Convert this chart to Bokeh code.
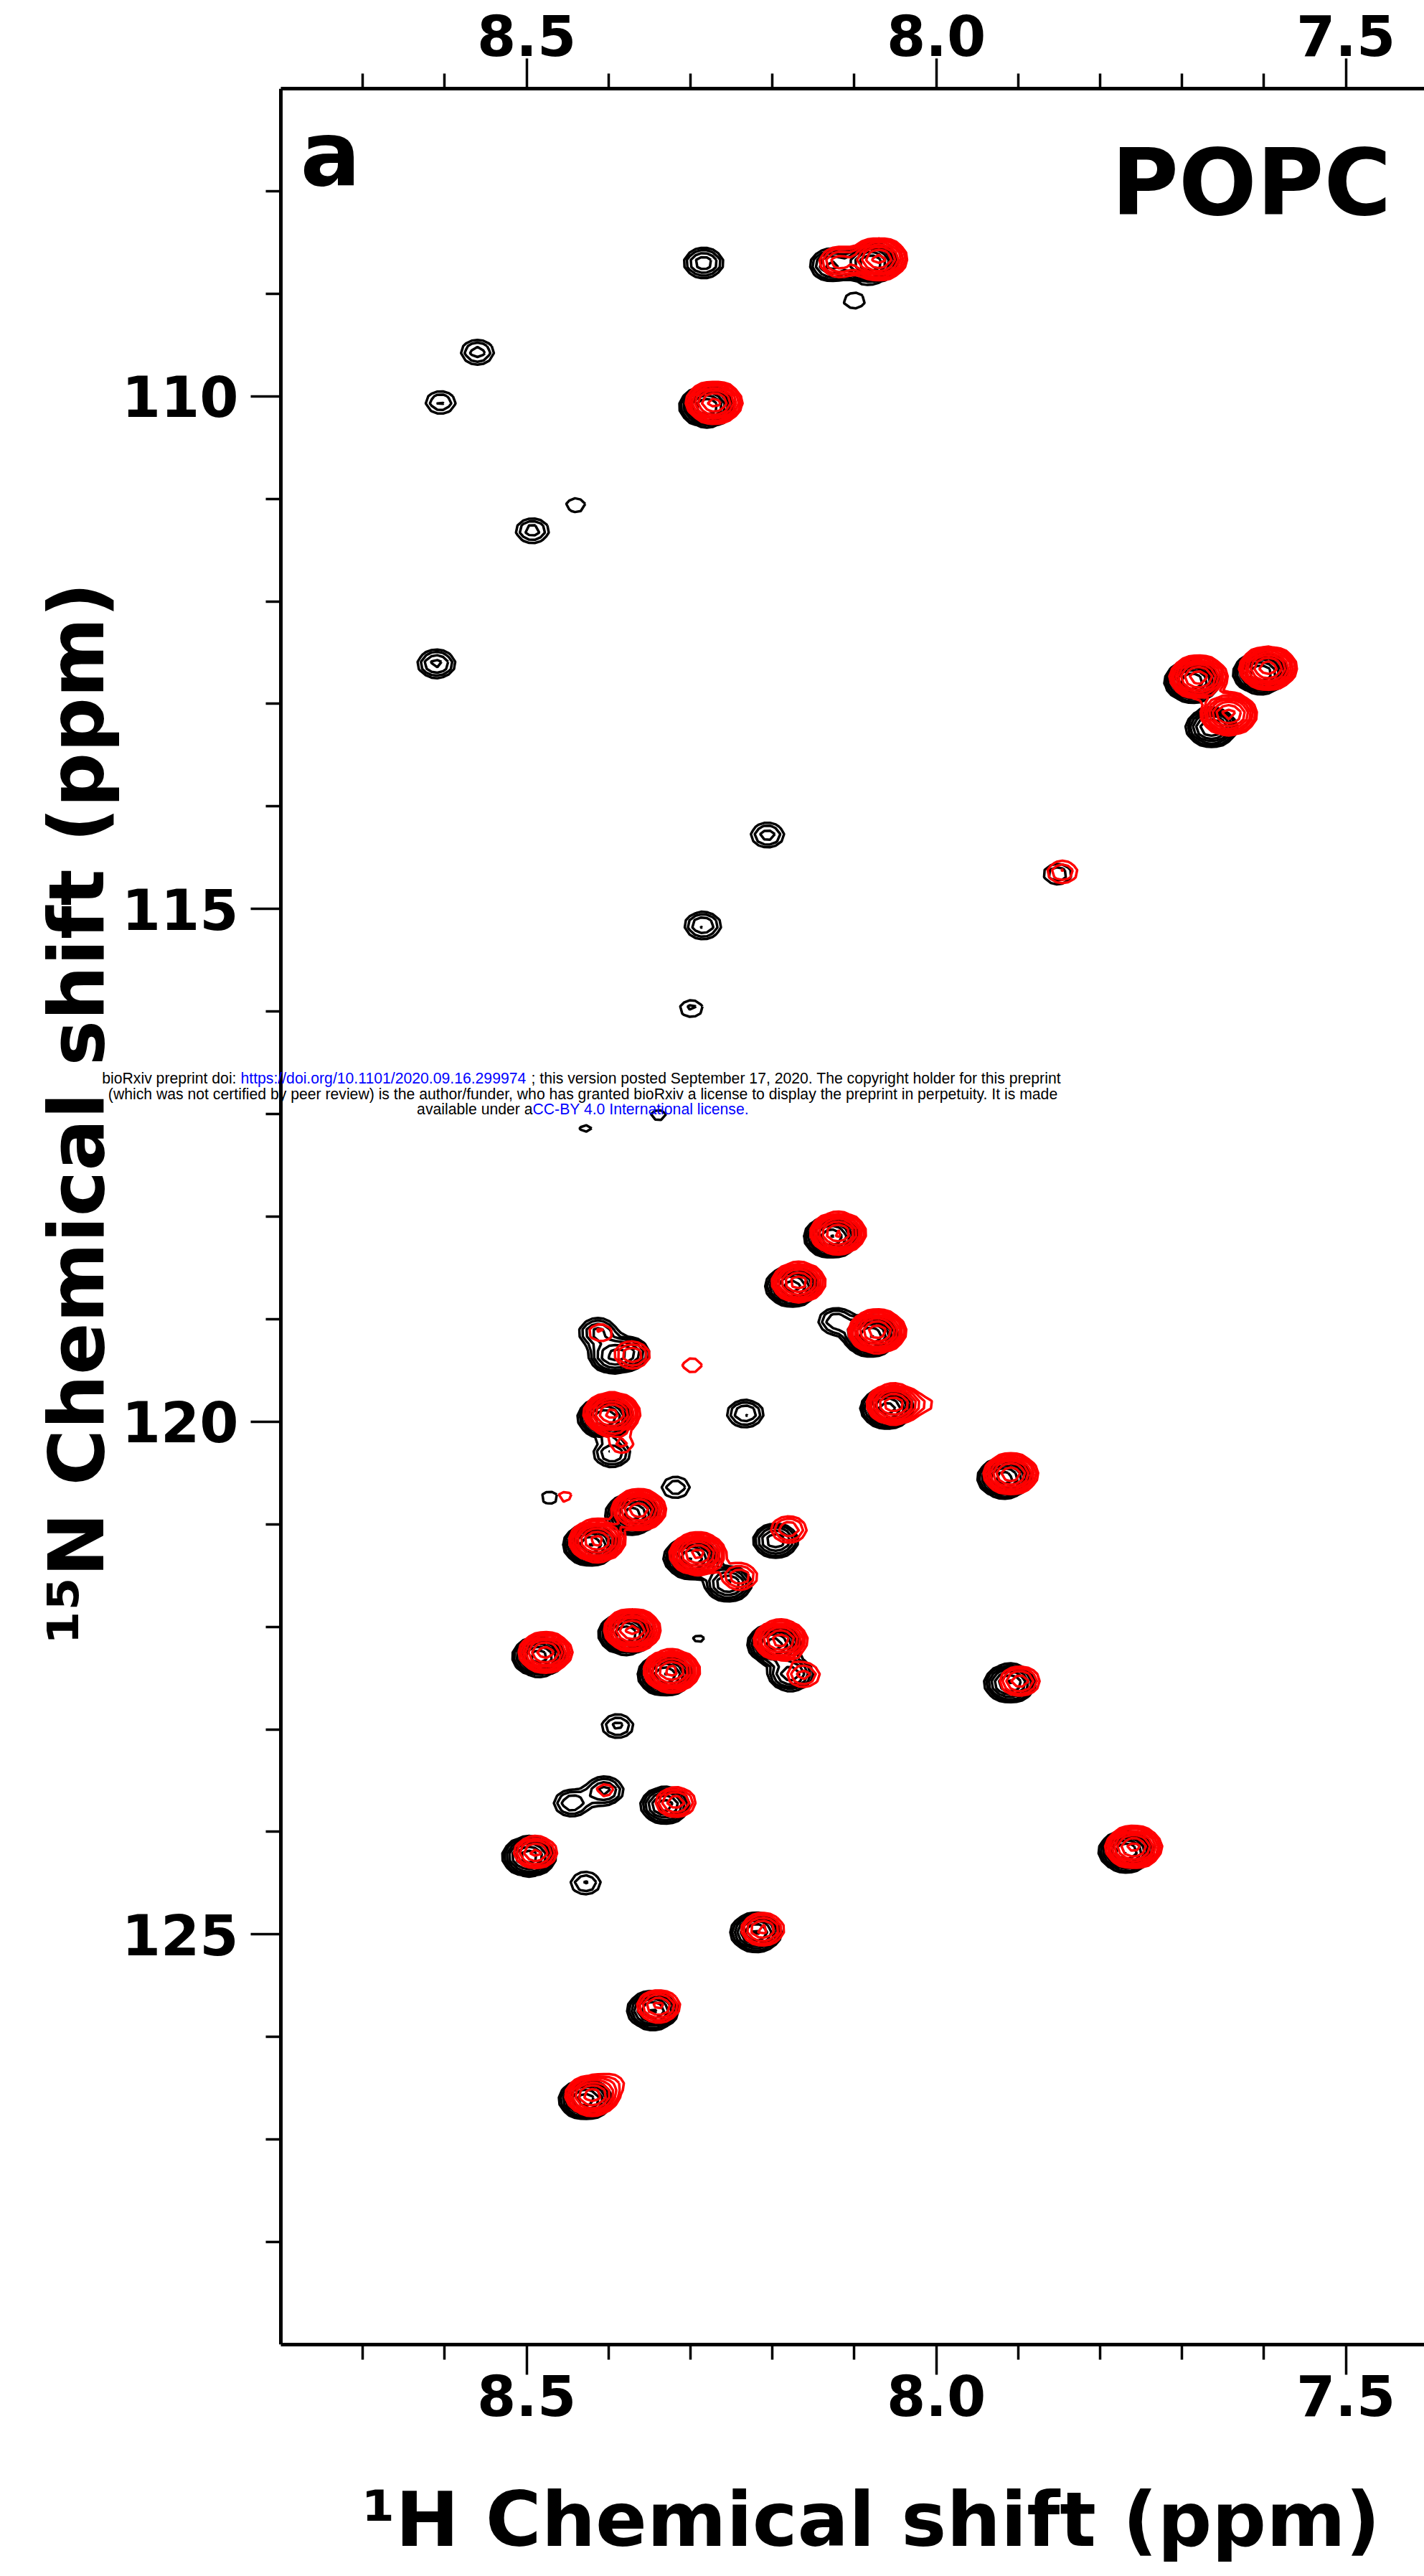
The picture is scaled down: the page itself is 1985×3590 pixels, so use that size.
import numpy as np
from bokeh.plotting import figure
from bokeh.models import Range1d, FixedTicker, LinearAxis, Label, PrintfTickFormatter
from bokeh.embed import file_html
from bokeh.resources import INLINE

# ---------------- data ----------------
# black spectrum (reference state) peaks: 1H shift, 15N shift, relative height
black_h = [8.284, 8.080, 8.128, 8.100, 8.560, 8.605, 8.280, 8.440, 8.493, 8.610,
           7.688, 7.604, 7.664, 7.852, 8.206, 8.285, 8.299, 8.339, 8.428,
           8.128, 8.176, 8.122, 8.080, 8.413, 8.396, 8.375, 8.404, 8.233, 8.060,
           8.396, 7.917, 8.472, 8.318, 8.371, 8.422, 8.299, 8.196, 8.254, 8.379,
           8.290, 8.485, 8.331, 8.198, 8.178, 7.910, 8.389, 8.445, 8.405, 8.331,
           8.497, 8.428, 7.768, 8.220, 8.346, 8.428]
black_n = [108.70, 108.70, 108.72, 109.07, 109.57, 110.06, 110.10, 111.06, 111.31, 112.61,
           112.78, 112.70, 113.23, 114.66, 114.28, 115.16, 115.97, 117.01, 117.14,
           118.20, 118.68, 119.02, 119.16, 119.13, 119.36, 119.33, 119.96, 119.92, 119.87,
           120.31, 120.55, 120.74, 120.64, 120.90, 121.20, 121.33, 121.16, 121.58, 122.07,
           122.12, 122.29, 122.47, 122.17, 122.46, 122.55, 122.97, 123.72, 123.60, 123.74,
           124.24, 124.50, 124.19, 124.98, 125.74, 126.61]
black_amp = [4.0, 14, 5, 1.5, 2.6, 2.2, 14, 1.4, 2.6, 3.5,
             14, 14, 10, 2.0, 2.6, 3.2, 1.6, 1.25, 1.15,
             14, 12, 3.0, 14, 3.5, 6, 4, 14, 3.2, 12,
             3.2, 12, 1.3, 2.0, 12, 14, 14, 6, 7, 14,
             1.15, 12, 14, 12, 6, 10, 2.4, 3.0, 3.5, 8,
             12, 2.2, 14, 10, 10, 12]

# red spectrum (POPC) peaks
red_h = [8.070, 8.118, 8.271, 7.680, 7.595, 7.643, 7.846, 8.120, 8.168, 8.072,
         8.410, 8.371, 8.298, 8.396, 8.052, 8.012, 8.384, 7.909, 8.453, 8.363,
         8.414, 8.291, 8.180, 8.240, 8.371, 8.477, 8.323, 8.190, 8.162, 7.898,
         8.404, 8.318, 8.489, 7.759, 8.212, 8.339, 8.420, 8.393]
red_n = [108.66, 108.69, 110.06, 112.74, 112.65, 113.10, 114.64, 118.16, 118.64, 119.12,
         119.13, 119.35, 119.45, 119.92, 119.83, 119.83, 120.22, 120.51, 120.73, 120.86,
         121.16, 121.29, 121.05, 121.51, 122.03, 122.25, 122.43, 122.13, 122.47, 122.53,
         123.59, 123.71, 124.20, 124.15, 124.95, 125.70, 126.57, 126.44]
red_amp = [16, 4, 16, 18, 18, 16, 2.2, 15, 12, 18,
           1.6, 3.0, 1.4, 16, 13, 1.1, 1.6, 13, 1.2, 13,
           16, 16, 3.0, 3.0, 16, 12, 16, 12, 2.5, 4.0,
           1.3, 4.0, 5.0, 16, 5.0, 5.0, 12, 1.2]

contour_levels = [1.0, 1.45, 2.1, 3.05, 4.4, 6.4, 9.3, 13.5, 19.5, 28.0]
sig_h, sig_n = 0.0145, 0.085          # peak widths (ppm)

x_major = [8.5, 8.0, 7.5]
x_minor = [8.7, 8.6, 8.4, 8.3, 8.2, 8.1, 7.9, 7.8, 7.7, 7.6]
y_major = [110, 115, 120, 125]
y_minor = [108, 109, 111, 112, 113, 114, 116, 117, 118, 119, 121, 122, 123, 124,
           126, 127, 128]

# ---------------- spectra on a grid ----------------
h_axis = np.arange(7.30, 8.90, 0.007)
n_axis = np.arange(106.5, 129.6, 0.07)
H, N = np.meshgrid(h_axis, n_axis)


def spectrum(hs, ns, amps):
    z = np.zeros_like(H)
    for h0, n0, a in zip(hs, ns, amps):
        z += a * np.exp(-0.5 * ((H - h0) / sig_h) ** 2 - 0.5 * ((N - n0) / sig_n) ** 2)
    return z


z_black = spectrum(black_h, black_n, black_amp)
z_red = spectrum(red_h, red_n, red_amp)

# ---------------- figure ----------------
PX_PER_PPM = 1142.0
H_LEFT_AXIS = 8.8                      # where the 15N axis is drawn
h_start = H_LEFT_AXIS + 391 / PX_PER_PPM
h_end = h_start - 1985 / PX_PER_PPM

p = figure(frame_width=1985, frame_height=3144,
           x_range=Range1d(h_start, h_end), y_range=Range1d(129, 107),
           output_backend="svg", toolbar_location=None,
           min_border_left=0, min_border_right=0,
           min_border_top=123, min_border_bottom=323)
p.outline_line_color = None
p.grid.visible = False
p.background_fill_color = "white"
p.border_fill_color = "white"

p.add_layout(LinearAxis(), "above")

for ax in p.xaxis:
    ax.ticker = FixedTicker(ticks=x_major, minor_ticks=x_minor)
    ax.formatter = PrintfTickFormatter(format="%.1f")
for ax in p.yaxis:
    ax.ticker = FixedTicker(ticks=y_major, minor_ticks=y_minor)
    ax.fixed_location = H_LEFT_AXIS

for ax in list(p.xaxis) + list(p.yaxis):
    ax.axis_line_width = 5
    ax.axis_line_color = "black"
    ax.major_tick_line_width = 3.5
    ax.minor_tick_line_width = 3.5
    ax.major_tick_out = 42
    ax.major_tick_in = 0
    ax.minor_tick_out = 21
    ax.minor_tick_in = 0
    ax.major_label_text_font = "DejaVu Sans"
    ax.major_label_text_font_style = "bold"
    ax.major_label_text_font_size = "78px"
    ax.major_label_text_color = "black"

bottom_axis = p.below[0]
top_axis = p.above[0]
top_axis.bounds = (h_end, H_LEFT_AXIS)
top_axis.major_label_standoff = 4
bottom_axis.bounds = (h_end, H_LEFT_AXIS)
bottom_axis.major_label_standoff = -1
# label sits right of the frame centre in the original: lead it with no-break spaces
bottom_axis.axis_label = "\u00a0" * 12 + "¹H Chemical shift (ppm)"
bottom_axis.axis_label_text_font = "DejaVu Sans"
bottom_axis.axis_label_text_font_style = "bold"
bottom_axis.axis_label_text_font_size = "106px"
bottom_axis.axis_label_text_color = "black"
bottom_axis.axis_label_standoff = 80
p.yaxis[0].major_label_standoff = 17

p.contour(H, N, z_black, contour_levels, line_color="black", line_width=3.5, fill_color=None)
p.contour(H, N, z_red, contour_levels, line_color="#ff0000", line_width=3.5, fill_color=None)


def px2h(px):
    return H_LEFT_AXIS - (px - 391) / PX_PER_PPM


def py2n(py):
    return 107 + (py - 123) / 143.0


# 15N axis title, rotated
p.add_layout(Label(x=px2h(106), y=py2n(2292), text="¹⁵N Chemical shift (ppm)",
                   angle=np.pi / 2, text_font="DejaVu Sans", text_font_style="bold",
                   text_font_size="107px", text_color="black",
                   text_align="left", text_baseline="alphabetic"))

p.add_layout(Label(x=px2h(418), y=py2n(214), text="a", text_font="DejaVu Sans",
                   text_font_style="bold", text_font_size="125px", text_color="black",
                   text_align="left", text_baseline="alphabetic"))
p.add_layout(Label(x=px2h(1939), y=py2n(254), text="POPC", text_font="DejaVu Sans",
                   text_font_style="bold", text_font_size="128px", text_color="black",
                   text_align="right", text_baseline="alphabetic"))

# preprint notice
wm = dict(text_font="Liberation Sans", text_font_size="21.2px", text_baseline="alphabetic")
blue = "#0000ff"
notice = [
    Label(x=px2h(329), y=py2n(1503), text="bioRxiv preprint doi:",
          text_align="right", text_color="black", **wm),
    Label(x=px2h(335), y=py2n(1503), text="https://doi.org/10.1101/2020.09.16.299974",
          text_align="left", text_color=blue, **wm),
    Label(x=px2h(740), y=py2n(1503),
          text="; this version posted September 17, 2020. The copyright holder for this preprint",
          text_align="left", text_color="black", **wm),
    Label(x=px2h(812), y=py2n(1525),
          text="(which was not certified by peer review) is the author/funder, who has granted bioRxiv a license to display the preprint in perpetuity. It is made",
          text_align="center", text_color="black", **wm),
    Label(x=px2h(742), y=py2n(1546), text="available under a",
          text_align="right", text_color="black", **wm),
    Label(x=px2h(742), y=py2n(1546), text="CC-BY 4.0 International license.",
          text_align="left", text_color=blue, **wm),
]
for lab in notice:
    p.add_layout(lab)

open("out.html", "w").write(file_html(p, INLINE))
